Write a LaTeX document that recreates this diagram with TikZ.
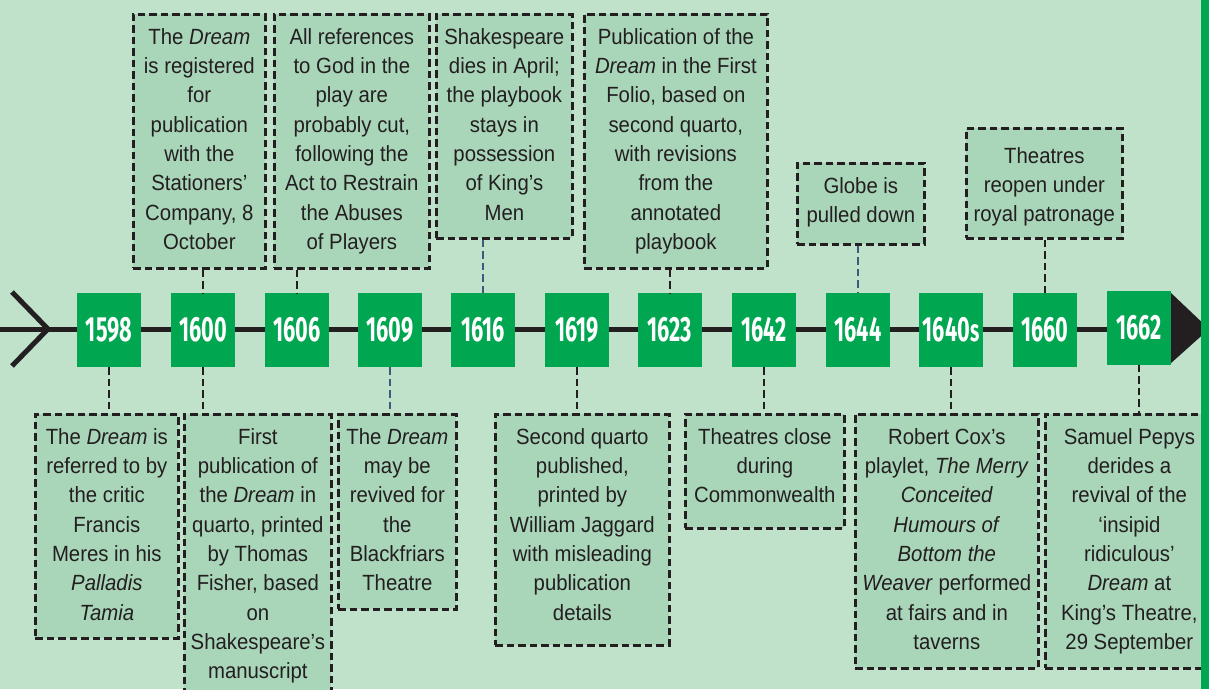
\documentclass[tikz,border=0pt]{standalone}
\usepackage{fontspec}
\setmainfont[FakeStretch=0.925]{Liberation Sans}
\newfontfamily\yearfont[FakeStretch=0.62]{Fira Sans}
\definecolor{bg}{HTML}{C0E2CB}
\definecolor{boxfill}{HTML}{A9D5B9}
\definecolor{grn}{HTML}{00A650}
\definecolor{dark}{HTML}{231F20}
\definecolor{bluec}{HTML}{3B5B7B}
\begin{document}
\begin{tikzpicture}[x=1pt,y=-1pt,
  evbox/.style={draw=dark, line width=2.7pt, dash pattern=on 7.5pt off 4pt,
    fill=boxfill, inner sep=0pt, align=center, text=dark, anchor=north west,
    font=\fontsize{22}{29.3}\selectfont},
  hd/.style 2 args={text height=#1pt, text depth=#2pt},
  yearbox/.style={fill=grn, text=white, minimum width=64pt, minimum height=74pt,
    inner sep=0pt, font=\yearfont\bfseries\fontsize{35}{35}\selectfont},
  conn/.style={draw=dark, line width=2.7pt, dash pattern=on 7.5pt off 4pt},
  bconn/.style={conn, draw=bluec}]
\clip (0,0) rectangle (1209,689);
\fill[bg] (0,0) rectangle (1209,689);
% timeline
\coordinate (lstart) at (0,329);
\coordinate (lend) at (1172,329);
\draw[dark, line width=5pt] (lstart) -- (lend);
\draw[dark, line width=5pt, miter limit=10] (12,292) -- (48,329) -- (12,366);
\fill[dark] (1170,292) -- (1209,329) -- (1170,364) -- cycle;
% year boxes
\node[yearbox] (y1598) at (109,330) {1598};
\node[yearbox] (y1600) at (203,330) {1600};
\node[yearbox] (y1606) at (297,330) {1606};
\node[yearbox] (y1609) at (390,330) {1609};
\node[yearbox] (y1616) at (483,330) {1616};
\node[yearbox] (y1619) at (577,330) {1619};
\node[yearbox] (y1623) at (670,330) {1623};
\node[yearbox] (y1642) at (764,330) {1642};
\node[yearbox] (y1644) at (858,330) {1644};
\node[yearbox] (y1640s) at (951,330) {1640{\fontsize{31}{31}\selectfont s}};
\node[yearbox] (y1660) at (1045,330) {1660};
\node[yearbox] (y1662) at (1139,327.5) {1662};
% top boxes
\node[evbox, minimum width=132pt, hd={235.1}{18.9}] (t1600) at (132,13)
  {The \textit{Dream}\\is registered\\for\\publication\\with the\\Stationers’\\Company, 8\\October};
\node[evbox, minimum width=155pt, hd={235.1}{18.9}] (t1606) at (273,13)
  {All references\\to God in the\\play are\\probably cut,\\following the\\Act to Restrain\\the Abuses\\of Players};
\node[evbox, minimum width=136pt, hd={205.8}{18.2}] (t1616) at (435,13)
  {Shakespeare\\dies in April;\\the playbook\\stays in\\possession\\of King’s\\Men};
\node[evbox, minimum width=183pt, hd={235.1}{18.9}] (t1623) at (583,13)
  {Publication of the\\\textit{Dream} in the First\\Folio, based on\\second quarto,\\with revisions\\from the\\annotated\\playbook};
\node[evbox, minimum width=127pt, hd={59.3}{21.7}] (t1644) at (796,162)
  {Globe is\\pulled down};
\node[evbox, minimum width=156pt, hd={93.6}{16.4}] (t1660) at (965,127)
  {Theatres\\reopen under\\royal patronage};
% bottom boxes
\node[evbox, minimum width=143pt, hd={205.8}{18.2}] (b1598) at (34,413)
  {The \textit{Dream} is\\referred to by\\the critic\\Francis\\Meres in his\\\textit{Palladis}\\\textit{Tamia}};
\node[evbox, minimum width=147pt, hd={264.4}{18.6}] (b1600) at (183,413)
  {First\\publication of\\the \textit{Dream} in\\quarto, printed\\by Thomas\\Fisher, based\\on\\Shakespeare’s\\manuscript};
\node[evbox, minimum width=118pt, hd={176.5}{18.5}] (b1609) at (337,413)
  {The \textit{Dream}\\may be\\revived for\\the\\Blackfriars\\Theatre};
\node[evbox, minimum width=174pt, hd={205.8}{25.2}] (b1619) at (494,413)
  {Second quarto\\published,\\printed by\\William Jaggard\\with misleading\\publication\\details};
\node[evbox, minimum width=159pt, hd={88.6}{25.4}] (b1642) at (684,413)
  {Theatres close\\during\\Commonwealth};
\node[evbox, minimum width=183pt, hd={235.1}{18.9}] (b1640s) at (854,413)
  {Robert Cox’s\\playlet, \textit{The Merry}\\\textit{Conceited}\\\textit{Humours of}\\\textit{Bottom the}\\\textit{Weaver} performed\\at fairs and in\\taverns};
\node[evbox, minimum width=168pt, hd={235.1}{18.9}] (b1662) at (1044,413)
  {Samuel Pepys\\derides a\\revival of the\\‘insipid\\ridiculous’\\\textit{Dream} at\\King’s Theatre,\\29 September};
% connectors
\draw[conn] (t1600.south -| y1600) -- (y1600.north);
\draw[conn] (t1606.south -| y1606) -- (y1606.north);
\draw[bconn] (t1616.south -| y1616) -- (y1616.north);
\draw[conn] (t1623.south -| y1623) -- (y1623.north);
\draw[bconn] (t1644.south -| y1644) -- (y1644.north);
\draw[conn] (t1660.south -| y1660) -- (y1660.north);
\draw[conn] (y1598.south) -- (b1598.north -| y1598);
\draw[conn] (y1600.south) -- (b1600.north -| y1600);
\draw[bconn] (y1609.south) -- (b1609.north -| y1609);
\draw[conn] (y1619.south) -- (b1619.north -| y1619);
\draw[conn] (y1642.south) -- (b1642.north -| y1642);
\draw[conn] (y1640s.south) -- (b1640s.north -| y1640s);
\draw[conn] (y1662.south) -- (b1662.north -| y1662);
% right bar
\fill[grn] (1201,0) rectangle (1209,689);
\end{tikzpicture}
\end{document}
